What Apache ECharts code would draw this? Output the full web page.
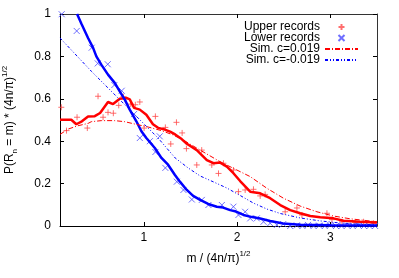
<!DOCTYPE html>
<html><head><meta charset="utf-8">
<script src="https://cdn.jsdelivr.net/npm/echarts@6/dist/echarts.min.js"></script>
<style>html,body{margin:0;padding:0;background:#fff}#c{width:399px;height:278px}</style>
</head><body><div id="c"></div>
<script>
const xTicks = [1, 2, 3];
const seriesNames = ['Upper records', 'Lower records', 'Sim. c=0.019', 'Sim. c=-0.019'];

const upperRecords = [
  [0.114,0.56],[0.17,0.45],[0.283,0.513],[0.393,0.462],[0.508,0.612],[0.562,0.513],
  [0.615,0.536],[0.672,0.532],[0.73,0.569],[0.78,0.61],[0.859,0.575],[0.908,0.572],
  [0.956,0.585],[1.002,0.462],[1.123,0.517],[1.23,0.465],[1.288,0.387],[1.349,0.489],
  [1.41,0.439],[1.456,0.365],[1.567,0.288],[1.62,0.358],[1.728,0.288],[1.8,0.248],[1.853,0.296],
  [1.96,0.264],[2.014,0.162],[2.086,0.17],[2.175,0.173],[2.247,0.142],[2.3,0.149],
  [2.515,0.067],[2.641,0.085],[2.695,0.052],[2.963,0.06],[3.017,0.03],[3.124,0.02],
  [3.266,0.016],[3.356,0.02],[3.463,0.013]
];
const lowerRecords = [
  [0.118,0.999],[0.279,0.92],[0.44,0.841],[0.505,0.767],[0.612,0.763],[0.683,0.665],
  [0.762,0.638],[0.894,0.528],[0.956,0.415],[1.064,0.4],[1.123,0.349],[1.17,0.423],
  [1.23,0.274],[1.353,0.209],[1.424,0.17],[1.514,0.125],[1.621,0.123],[1.692,0.099],
  [1.836,0.099],[1.96,0.091],[2.014,0.052],[2.086,0.067],[2.14,0.036],[2.211,0.036],
  [2.283,0.02],[2.354,0.013],[2.426,0.005],[2.494,0.009],[2.569,0.0],[2.64,0.003],
  [2.7,0.0],[2.76,0.005],[2.82,0.0],[2.88,0.002],[2.94,0.0],[3.0,0.004],[3.06,0.0],
  [3.12,0.0],[3.18,0.002],[3.24,0.0],[3.3,0.003],[3.36,0.0],[3.42,0.0],[3.48,0.0]
];
const upperSmooth = [
  [0.1,0.501],[0.221,0.501],[0.275,0.48],[0.335,0.494],[0.401,0.517],[0.473,0.518],
  [0.53,0.533],[0.615,0.585],[0.669,0.575],[0.741,0.6],[0.812,0.604],[0.848,0.597],
  [0.895,0.557],[0.956,0.549],[1.026,0.525],[1.097,0.48],[1.152,0.463],[1.224,0.455],
  [1.281,0.445],[1.335,0.432],[1.405,0.41],[1.46,0.388],[1.567,0.358],[1.675,0.311],
  [1.746,0.296],[1.818,0.299],[1.89,0.28],[1.96,0.249],[2.032,0.212],[2.14,0.162],
  [2.247,0.154],[2.354,0.131],[2.462,0.099],[2.569,0.075],[2.676,0.06],[2.784,0.047],
  [2.891,0.041],[3.034,0.036],[3.141,0.025],[3.32,0.02],[3.5,0.016]
];
const lowerSmooth = [
  [0.283,1.0],[0.331,0.953],[0.401,0.887],[0.455,0.84],[0.49,0.8],[0.543,0.761],
  [0.615,0.714],[0.687,0.675],[0.741,0.635],[0.795,0.596],[0.848,0.549],[0.919,0.494],
  [0.973,0.447],[1.026,0.415],[1.117,0.368],[1.188,0.321],[1.259,0.289],[1.331,0.242],
  [1.388,0.208],[1.46,0.17],[1.528,0.142],[1.603,0.123],[1.689,0.104],[1.782,0.091],
  [1.85,0.087],[1.925,0.075],[1.989,0.068],[2.068,0.052],[2.161,0.042],[2.247,0.035],
  [2.354,0.024],[2.494,0.012],[2.676,0.006],[2.998,0.003],[3.5,0.002]
];
const simPos = [
  [0.1,0.432],[0.186,0.457],[0.293,0.473],[0.401,0.484],[0.436,0.492],[0.543,0.497],
  [0.687,0.497],[0.795,0.492],[0.902,0.481],[1.045,0.467],[1.188,0.45],[1.31,0.43],
  [1.424,0.405],[1.603,0.358],[1.818,0.303],[1.96,0.272],[2.14,0.233],[2.319,0.178],
  [2.497,0.131],[2.676,0.094],[2.856,0.067],[3.034,0.047],[3.213,0.034],[3.5,0.02]
];
const simNeg = [
  [0.1,0.887],[0.436,0.73],[0.795,0.572],[1.152,0.415],[1.335,0.321],[1.474,0.274],
  [1.603,0.236],[1.746,0.208],[1.89,0.179],[2.032,0.144],[2.175,0.108],[2.319,0.08],
  [2.462,0.059],[2.676,0.038],[2.891,0.024],[3.106,0.014],[3.5,0.005]
];

const FONT = 'Liberation Sans';
const plusPath = 'path://M4,0L4,8M0,4L8,4';
const crossPath = 'path://M0,0L8,8M8,0L0,8';
const hiddenSymbol = {color: 'rgba(0,0,0,0)', borderColor: 'rgba(0,0,0,0)', borderWidth: 0};

const chart = echarts.init(document.getElementById('c'), null, {renderer: 'canvas'});
const tickStyle = {inside: true, length: 4, lineStyle: {color: '#000', width: 1}};
chart.setOption({
  animation: false,
  backgroundColor: '#fff',
  textStyle: {fontFamily: FONT},
  grid: {left: 60, right: 22, top: 14, bottom: 52, containLabel: false, outerBoundsMode: 'none'},
  legend: {
    data: [
      {name: seriesNames[0]},
      {name: seriesNames[1]},
      {name: seriesNames[2], itemStyle: hiddenSymbol},
      {name: seriesNames[3], itemStyle: hiddenSymbol}
    ],
    orient: 'vertical', align: 'right', right: 35, top: 16,
    itemWidth: 33, itemHeight: 6, itemGap: -1,
    textStyle: {fontFamily: FONT, fontSize: 12, color: '#000'}
  },
  xAxis: [{
    type: 'value', min: 0.1, max: 3.5, position: 'bottom',
    name: '{t|m / (4n/π)}{s|1/2}', nameLocation: 'middle', nameGap: 24,
    nameTextStyle: {fontFamily: FONT, fontSize: 12, color: '#000',
      rich: {t: {fontFamily: FONT, fontSize: 12, color: '#000'},
             s: {fontFamily: FONT, fontSize: 8, color: '#000', verticalAlign: 'bottom', padding: [0,0,9,0]}}},
    axisLine: {onZero: false, lineStyle: {color: '#000', width: 1}},
    axisTick: Object.assign({customValues: xTicks}, tickStyle),
    axisLabel: {customValues: xTicks, margin: 6, fontFamily: FONT, fontSize: 12, color: '#000'},
    splitLine: {show: false}
  }, {
    type: 'value', min: 0.1, max: 3.5, position: 'top',
    axisLine: {onZero: false, lineStyle: {color: '#333', width: 1}},
    axisTick: Object.assign({customValues: xTicks}, tickStyle),
    axisLabel: {show: false}, splitLine: {show: false}
  }],
  yAxis: [{
    type: 'value', min: 0, max: 1, interval: 0.2, position: 'left',
    name: '{t|P(R}{b|n}{t| = m) * (4n/π)}{s|1/2}', nameLocation: 'middle', nameGap: 41,
    nameTextStyle: {fontFamily: FONT, fontSize: 12, color: '#000',
      rich: {t: {fontFamily: FONT, fontSize: 12, color: '#000'},
             b: {fontFamily: FONT, fontSize: 8, color: '#000', verticalAlign: 'top', padding: [10,0,0,0]},
             s: {fontFamily: FONT, fontSize: 8, color: '#000', verticalAlign: 'bottom', padding: [0,0,10,0]}}},
    axisLine: {onZero: false, lineStyle: {color: '#000', width: 1}},
    axisTick: tickStyle,
    axisLabel: {margin: 9, fontFamily: FONT, fontSize: 12, color: '#000'},
    splitLine: {show: false}
  }, {
    type: 'value', min: 0, max: 1, interval: 0.2, position: 'right',
    axisLine: {onZero: false, lineStyle: {color: '#333', width: 1}},
    axisTick: tickStyle, axisLabel: {show: false}, splitLine: {show: false}
  }],
  series: [
    {name: seriesNames[0], type: 'scatter', data: upperRecords, symbol: plusPath, symbolSize: 6,
     itemStyle: {color: 'transparent', borderColor: '#ff4a4a', borderWidth: 1}, z: 2},
    {name: 'upperAvg', type: 'line', data: upperSmooth, symbol: 'none', clip: true,
     lineStyle: {color: '#ff0000', width: 2.5}, z: 3},
    {name: seriesNames[1], type: 'scatter', data: lowerRecords, symbol: crossPath, symbolSize: 6,
     itemStyle: {color: 'transparent', borderColor: '#4a4aff', borderWidth: 1}, z: 2},
    {name: 'lowerAvg', type: 'line', data: lowerSmooth, symbol: 'none', clip: true,
     lineStyle: {color: '#0000ff', width: 2.5}, z: 4},
    {name: seriesNames[2], type: 'line', data: simPos, symbol: 'none', clip: true,
     itemStyle: {color: '#ff0000'},
     lineStyle: {color: '#ff0000', width: 1, type: [5,2,1,2]}, z: 5},
    {name: seriesNames[3], type: 'line', data: simNeg, symbol: 'none', clip: true,
     itemStyle: {color: '#0000ff'},
     lineStyle: {color: '#0000ff', width: 1, type: [3,2,1,2,1,2]}, z: 5}
  ]
});
</script></body></html>
